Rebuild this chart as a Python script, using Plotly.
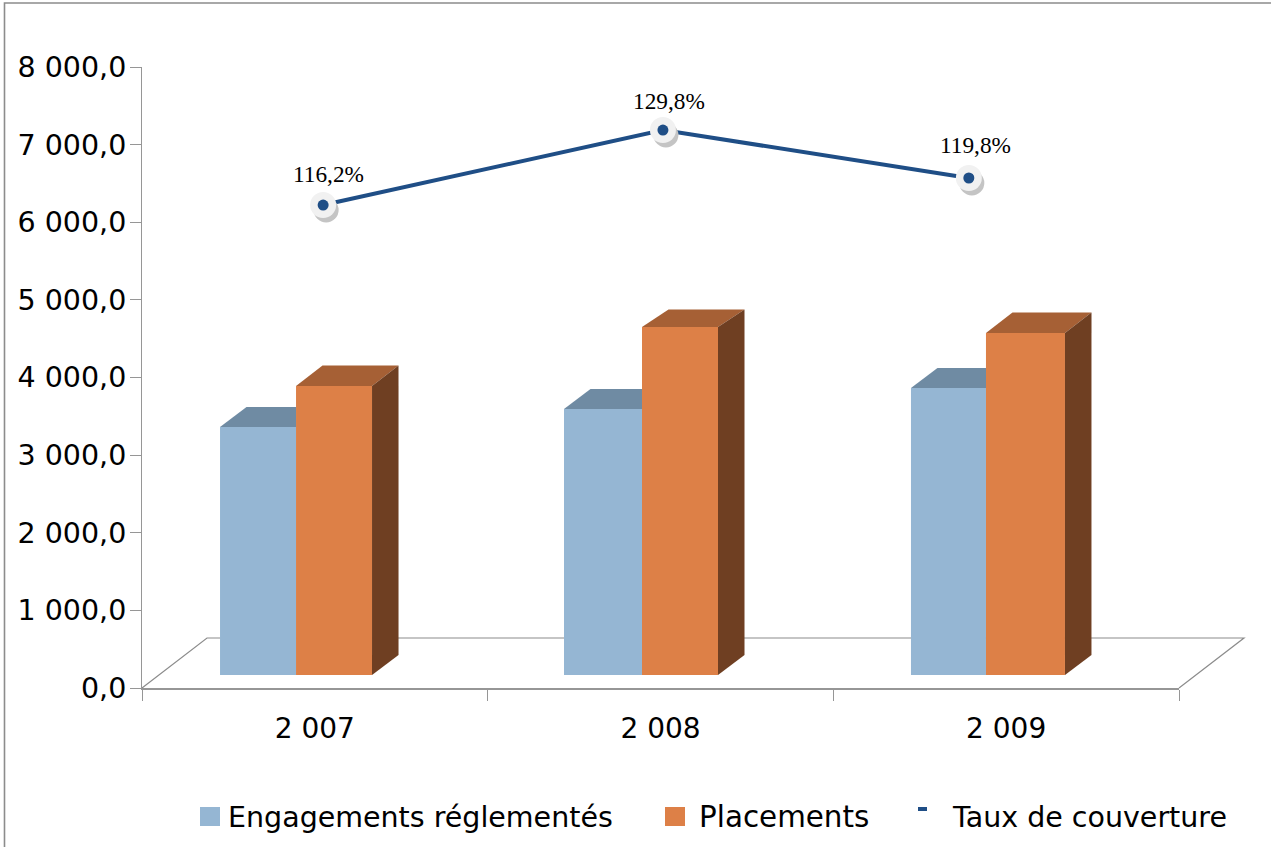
import plotly.graph_objects as go

# ---- data ----
years = ["2 007", "2 008", "2 009"]
engagements = [3195, 3427, 3697]
placements = [3723, 4483, 4406]
taux_level = [6222, 7188, 6570]
taux_labels = ["116,2%", "129,8%", "119,8%"]
y_ticks = [0, 1000, 2000, 3000, 4000, 5000, 6000, 7000, 8000]
y_tick_labels = ["0,0", "1 000,0", "2 000,0", "3 000,0", "4 000,0",
                 "5 000,0", "6 000,0", "7 000,0", "8 000,0"]

# ---- geometry (pixels of the page) ----
W, H = 1271, 847
L, R, T, B = 142, 1179, 67, 688
px_x = (R - L) / 3            # px per category
px_y = (B - T) / 8000         # px per unit
base = 13 / px_y              # bars stand forward on the floor
dx = 26.5 / px_x              # 3D depth
dy_blue = 20 / px_y
dy_or = [20.5 / px_y, 17.5 / px_y, 20.5 / px_y]
# bar edges as offsets from each category centre, px
blue_edges = [(-94.8, -18.8), (-96.5, -18.5), (-95.2, -20.2)]
or_edges = [(-18.8, 57.2), (-18.5, 57.5), (-20.2, 58.8)]
pt_x_off = [0.024, 0.007, -0.108]
lab_dx = [5, 6, 7]
lab_dy = [31, 29, 33]

C_BLUE, C_BLUE_TOP = "#95b6d3", "#6f8ba3"
C_OR, C_OR_TOP, C_OR_SIDE = "#dd8047", "#a66035", "#6f3f22"
C_LINE = "#1f4e86"
C_AXIS = "#969696"
FONT = "DejaVu Sans"

fig = go.Figure()
pos = list(range(len(years)))
blue_l = [p + e[0] / px_x for p, e in zip(pos, blue_edges)]
blue_r = [p + e[1] / px_x for p, e in zip(pos, blue_edges)]
or_l = [p + e[0] / px_x for p, e in zip(pos, or_edges)]
or_r = [p + e[1] / px_x for p, e in zip(pos, or_edges)]

fig.add_bar(x=[(a + b) / 2 for a, b in zip(blue_l, blue_r)], y=engagements, base=base,
            width=[b - a for a, b in zip(blue_l, blue_r)], marker=dict(color=C_BLUE, line_width=0),
            name="Engagements réglementés", showlegend=False)
fig.add_bar(x=[(a + b) / 2 for a, b in zip(or_l, or_r)], y=placements, base=base,
            width=[b - a for a, b in zip(or_l, or_r)], marker=dict(color=C_OR, line_width=0),
            name="Placements", showlegend=False)


def poly(xs, ys, color):
    fig.add_scatter(x=xs + xs[:1], y=ys + ys[:1], mode="lines", fill="toself", fillcolor=color,
                    line=dict(width=0, color=color), hoverinfo="skip", showlegend=False)


for i in pos:
    # blue top: cut where the orange front starts
    xl, xr = blue_l[i], blue_r[i]
    t = base + engagements[i]
    poly([xl, xl + dx, xr, xr], [t, t + dy_blue, t + dy_blue, t], C_BLUE_TOP)
    # orange top and side
    xl, xr = or_l[i], or_r[i]
    t = base + placements[i]
    d = dy_or[i]
    poly([xl, xl + dx, xr + dx, xr], [t, t + d, t + d, t], C_OR_TOP)
    poly([xr, xr + dx, xr + dx, xr], [base, base + dy_blue, t + d, t], C_OR_SIDE)

line_x = [p + o for p, o in zip(pos, pt_x_off)]
fig.add_scatter(x=line_x, y=taux_level, mode="lines", line=dict(color=C_LINE, width=4),
                name="Taux de couverture", showlegend=False, hoverinfo="x+y")
fig.add_scatter(x=[v + 3 / px_x for v in line_x], y=[v - 5 / px_y for v in taux_level], mode="markers",
                marker=dict(size=25, color="#c4c4c4", line=dict(width=0)), hoverinfo="skip", showlegend=False)
fig.add_scatter(x=line_x, y=taux_level, mode="markers",
                marker=dict(size=26, color="#f1f1f1", line=dict(width=0)), hoverinfo="skip", showlegend=False)
fig.add_scatter(x=line_x, y=taux_level, mode="markers",
                marker=dict(size=11, color=C_LINE, line=dict(width=0)), hoverinfo="skip", showlegend=False)

annotations = [
    dict(x=x, y=y, text=t, xref="x", yref="y", showarrow=False, xshift=sx, yshift=sy,
         font=dict(family="Liberation Serif", size=23.3, color="#000000"))
    for x, y, t, sx, sy in zip(line_x, taux_level, taux_labels, lab_dx, lab_dy)
]


def px(x):
    return (x - L) / (R - L)


def py(y):
    return (B - y) / (B - T)


shapes = [
    # outer frame
    dict(type="path", xref="paper", yref="paper", layer="below",
         path=f"M {px(4.5)} {py(847)} L {px(4.5)} {py(3)} L {px(1271)} {py(3)}",
         line=dict(color="#8c8c8c", width=1.6)),
    # floor
    dict(type="path", xref="paper", yref="paper", layer="below",
         path=f"M {px(142)} {py(688)} L {px(207)} {py(638)} L {px(1244)} {py(638)} L {px(1179)} {py(688)}",
         line=dict(color="#8c8c8c", width=1.2)),
]

# legend
legend_items = [("Engagements réglementés", 200, 226, C_BLUE, 20, 28.5), ("Placements", 665, 697, C_OR, 20, 29.4),
                ("Taux de couverture", 918, 950, C_LINE, 9, 28.5)]
for name, sx, tx, col, sz, fs in legend_items:
    y0, y1 = (807, 826) if sz == 20 else (807, 811)
    shapes.append(dict(type="rect", xref="paper", yref="paper", x0=px(sx), x1=px(sx + sz),
                       y0=py(y1), y1=py(y0), fillcolor=col, line_width=0))
    annotations.append(dict(x=px(tx), y=py(817), xref="paper", yref="paper", xanchor="left", yanchor="middle",
                            text=name, showarrow=False,
                            font=dict(family=FONT, size=fs, color="#000000")))

fig.update_layout(
    width=W, height=H, autosize=False, showlegend=False,
    paper_bgcolor="white", plot_bgcolor="rgba(0,0,0,0)",
    margin=dict(l=L, r=W - R, t=T, b=H - B, pad=0),
    barmode="overlay", shapes=shapes, annotations=annotations, hovermode="closest",
    xaxis=dict(range=[-0.5, 2.5], tickmode="array", tickvals=pos, ticktext=years, ticks="", showgrid=False,
               zeroline=False, showline=True, linecolor=C_AXIS, linewidth=2, ticklabelstandoff=14,
               tickfont=dict(family=FONT, size=28, color="#000000"),
               minor=dict(tickmode="array", tickvals=[-0.5, 0.5, 1.5, 2.5], ticks="outside", ticklen=11,
                          tickcolor=C_AXIS, tickwidth=1, showgrid=False)),
    yaxis=dict(range=[0, 8000], tickmode="array", tickvals=y_ticks, ticktext=y_tick_labels, ticks="outside",
               ticklen=11, tickcolor=C_AXIS, tickwidth=1, showgrid=False, zeroline=False, showline=True,
               linecolor=C_AXIS, linewidth=1, ticklabelstandoff=-2,
               tickfont=dict(family=FONT, size=28.5, color="#000000")),
)

fig.write_html("out.html", config=dict(displayModeBar=False), post_script="document.body.style.margin='0';")
